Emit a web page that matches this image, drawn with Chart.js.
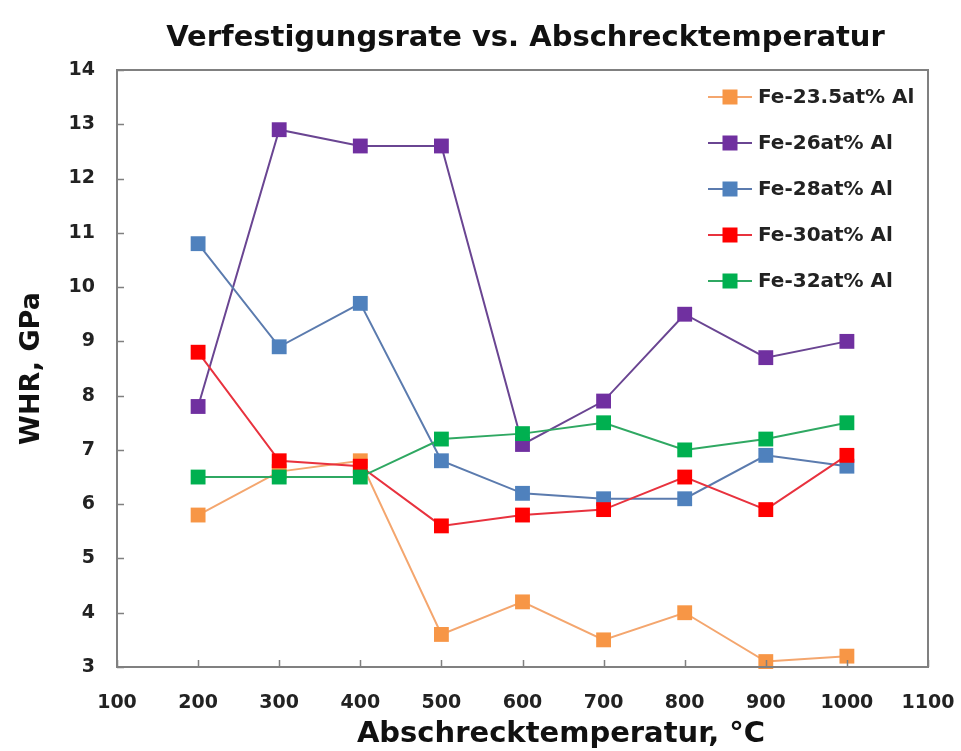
<!DOCTYPE html>
<html>
<head>
<meta charset="utf-8">
<script src="https://cdn.jsdelivr.net/npm/chart.js@4/dist/chart.umd.min.js"></script>
<style>
    html, body { margin: 0; padding: 0; background: #ffffff; }
    #wrap { width: 961px; height: 751px; position: relative; }
</style>
</head>
<body>
<div id="wrap"><canvas id="whrChart"></canvas></div>
<script>
// Quench temperatures (°C)
const temps = [200, 300, 400, 500, 600, 700, 800, 900, 1000];

// Work hardening rate (GPa) per alloy
const fe235 = [5.8, 6.6, 6.8, 3.6, 4.2, 3.5, 4.0, 3.1, 3.2];
const fe26 = [7.8, 12.9, 12.6, 12.6, 7.1, 7.9, 9.5, 8.7, 9.0];
const fe28 = [10.8, 8.9, 9.7, 6.8, 6.2, 6.1, 6.1, 6.9, 6.7];
const fe30 = [8.8, 6.8, 6.7, 5.6, 5.8, 5.9, 6.5, 5.9, 6.9];
const fe32 = [6.5, 6.5, 6.5, 7.2, 7.3, 7.5, 7.0, 7.2, 7.5];

const seriesNames = ['Fe-23.5at% Al', 'Fe-26at% Al', 'Fe-28at% Al', 'Fe-30at% Al', 'Fe-32at% Al'];
const seriesValues = [fe235, fe26, fe28, fe30, fe32];
const markerColors = ['#F79646', '#7030A0', '#4F81BD', '#FF0000', '#00B050'];
const lineColors = ['#F4A66E', '#6A4592', '#5B7BAE', '#E8323E', '#2FA862'];

const chartTitle = 'Verfestigungsrate vs. Abschrecktemperatur';
const xTitle = 'Abschrecktemperatur, °C';
const yTitle = 'WHR, GPa';

const FONT = "'DejaVu Sans', Arial, sans-serif";

function toPoints(values) {
    return temps.map((t, i) => ({ x: t, y: values[i] }));
}

const datasets = seriesValues.map((vals, i) => ({
    label: seriesNames[i],
    data: toPoints(vals),
    borderColor: lineColors[i],
    backgroundColor: markerColors[i],
    borderWidth: 2,
    pointStyle: 'rect',
    pointRadius: 10.5,
    pointBorderWidth: 0,
    pointBackgroundColor: markerColors[i],
    tension: 0,
    clip: false,
    order: seriesNames.length - i
}));

// frame, inner tick marks, title, x title and the in-plot legend
const decorPlugin = {
    id: 'decor',
    afterDraw(chart) {
        const { ctx, chartArea: a, scales } = chart;
        ctx.save();

        // inner tick marks
        ctx.strokeStyle = '#808080';
        ctx.lineWidth = 1.5;
        ctx.beginPath();
        scales.y.ticks.forEach(t => {
            const y = Math.round(scales.y.getPixelForValue(t.value)) + 0.5;
            ctx.moveTo(a.left, y);
            ctx.lineTo(a.left + 7, y);
        });
        scales.x.ticks.forEach(t => {
            const x = Math.round(scales.x.getPixelForValue(t.value)) + 0.5;
            ctx.moveTo(x, a.bottom);
            ctx.lineTo(x, a.bottom - 7);
        });
        ctx.stroke();

        // frame
        ctx.lineWidth = 2;
        ctx.strokeRect(a.left, a.top, a.right - a.left, a.bottom - a.top);

        // chart title
        ctx.fillStyle = '#111111';
        ctx.textAlign = 'center';
        ctx.textBaseline = 'middle';
        ctx.font = "bold 29px " + FONT;
        ctx.fillText(chartTitle, (a.left + a.right) / 2 + 3, 38);

        // x axis title
        ctx.font = "bold 29px " + FONT;
        ctx.fillText(xTitle, 561, 734);

        // legend
        const lx = 708, rowTop = 97, rowGap = 46;
        ctx.font = "bold 20px " + FONT;
        ctx.textAlign = 'left';
        seriesNames.forEach((name, i) => {
            const y = rowTop + i * rowGap;
            ctx.strokeStyle = lineColors[i];
            ctx.lineWidth = 2;
            ctx.beginPath();
            ctx.moveTo(lx, y);
            ctx.lineTo(lx + 44, y);
            ctx.stroke();
            ctx.fillStyle = markerColors[i];
            ctx.fillRect(lx + 22 - 7.5, y - 7.5, 15, 15);
            ctx.fillStyle = '#222222';
            ctx.fillText(name, lx + 50, y + 1);
        });

        ctx.restore();
    }
};

const ctx = document.getElementById('whrChart').getContext('2d');
new Chart(ctx, {
    type: 'line',
    data: { datasets: datasets },
    options: {
        responsive: true,
        maintainAspectRatio: false,
        animation: false,
        layout: {
            padding: { top: 70, right: 33, bottom: 0, left: 0 }
        },
        plugins: {
            legend: { display: false },
            title: { display: false },
            tooltip: { enabled: false }
        },
        scales: {
            x: {
                type: 'linear',
                min: 100,
                max: 1100,
                afterFit: function(scale) {
                    scale.height = 84;
                    scale.paddingLeft = 0;
                    scale.paddingRight = 0;
                },
                grid: { display: false, drawTicks: false },
                border: { display: false },
                ticks: {
                    stepSize: 100,
                    padding: 25,
                    color: '#222222',
                    font: { family: FONT, size: 19, weight: 'bold' },
                    callback: function(value) { return String(value); }
                }
            },
            y: {
                min: 3,
                max: 14,
                afterFit: function(scale) {
                    scale.width = 117;
                    scale.paddingTop = 0;
                    scale.paddingBottom = 0;
                },
                grid: { display: false, drawTicks: false },
                border: { display: false },
                ticks: {
                    stepSize: 1,
                    padding: 22,
                    color: '#222222',
                    font: { family: FONT, size: 19, weight: 'bold' }
                },
                title: {
                    display: true,
                    text: yTitle,
                    color: '#111111',
                    padding: { top: 16, bottom: 0 },
                    font: { family: FONT, size: 27, weight: 'bold' }
                }
            }
        }
    },
    plugins: [decorPlugin]
});
</script>
</body>
</html>
